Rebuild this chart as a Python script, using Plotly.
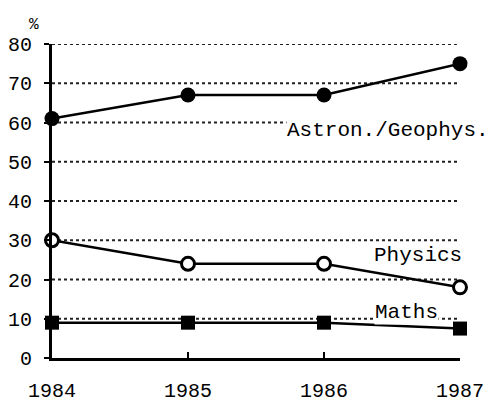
import plotly.graph_objects as go

years = [1984, 1985, 1986, 1987]
astron = [61, 67, 67, 75]
physics = [30, 24, 24, 18]
maths = [9, 9, 9, 7.5]
y_ticks = [0, 10, 20, 30, 40, 50, 60, 70, 80]
grid_levels = [10, 20, 30, 40, 50, 60, 70, 80]

font = "Liberation Mono, Courier New, monospace"

fig = go.Figure()

# dotted "wavy" grid lines
for g in grid_levels:
    fig.add_trace(go.Scatter(x=[years[0], years[-1]], y=[g, g], mode="lines",
                             line=dict(color="#222", width=2, dash="dot"),
                             hoverinfo="skip", showlegend=False))

fig.add_trace(go.Scatter(x=years, y=astron, mode="lines+markers",
                         line=dict(color="black", width=2.5),
                         marker=dict(symbol="circle", size=15, color="black"),
                         cliponaxis=False, showlegend=False))
fig.add_trace(go.Scatter(x=years, y=physics, mode="lines+markers",
                         line=dict(color="black", width=2.5),
                         marker=dict(symbol="circle", size=13, color="white",
                                     line=dict(color="black", width=3)),
                         cliponaxis=False, showlegend=False))
fig.add_trace(go.Scatter(x=years, y=maths, mode="lines+markers",
                         line=dict(color="black", width=2.5),
                         marker=dict(symbol="square", size=14, color="black"),
                         cliponaxis=False, showlegend=False))

labels = [("Astron./Geophys.", 1985.72, 58), ("Physics", 1986.36, 26.2), ("Maths", 1986.37, 11.7)]
for text, x, y in labels:
    fig.add_annotation(x=x, y=y, text=text, showarrow=False, xanchor="left",
                       yanchor="middle", font=dict(family=font, size=21, color="black"),
                       bgcolor="white", borderpad=0)

fig.add_annotation(x=0, y=1, xref="paper", yref="paper", text="%", showarrow=False,
                   xanchor="center", yanchor="bottom", xshift=-18, yshift=8,
                   font=dict(family=font, size=16, color="black"))

fig.update_xaxes(range=[1984, 1987], tickvals=years, ticktext=[str(y) for y in years],
                 showgrid=False, zeroline=False, showline=True, linecolor="black",
                 linewidth=3, ticks="inside", ticklen=6, tickwidth=2, tickcolor="black",
                 ticklabelstandoff=12, automargin=False,
                 tickfont=dict(family=font, size=20, color="black"))
fig.update_yaxes(range=[0, 80], tickvals=y_ticks, showgrid=False, zeroline=False,
                 showline=True, linecolor="black", linewidth=3, ticks="outside",
                 ticklen=5, tickwidth=2, tickcolor="black",
                 ticklabelstandoff=8, automargin=False,
                 tickfont=dict(family=font, size=20, color="black"))

# page body adds an 8px offset, so the figure is a bit smaller than the window
fig.update_layout(width=485, height=393, plot_bgcolor="white", paper_bgcolor="white",
                  margin=dict(l=44, r=33, t=36, b=43))

fig.write_html("out.html")
